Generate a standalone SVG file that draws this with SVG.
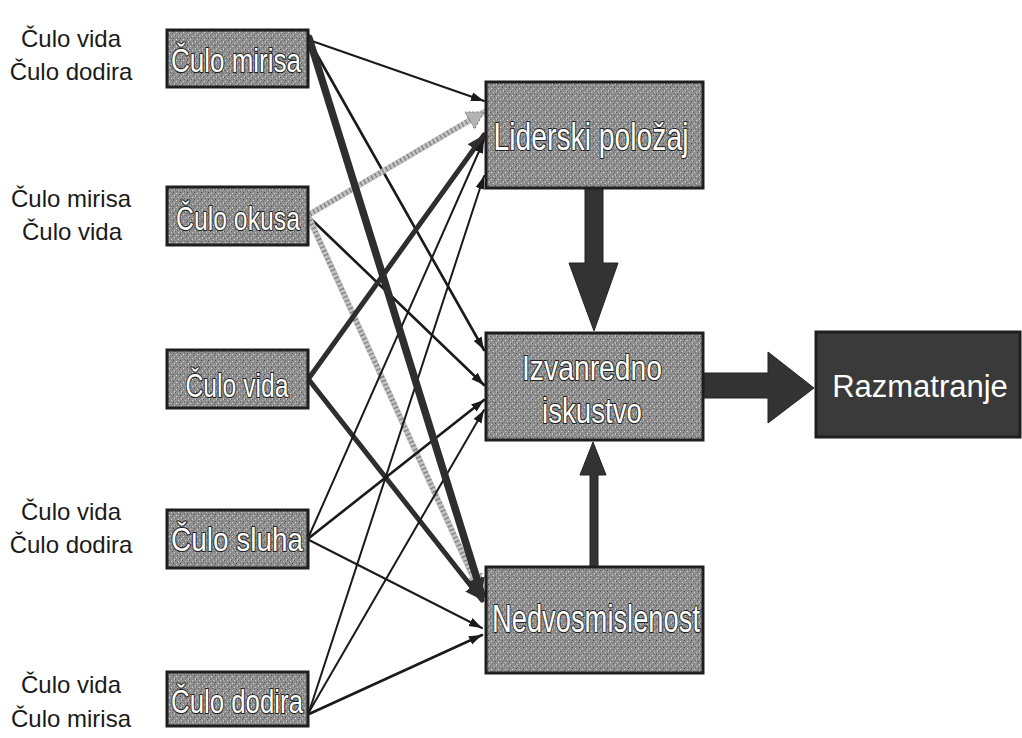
<svg xmlns="http://www.w3.org/2000/svg" width="1022" height="738" viewBox="0 0 1022 738">
<style>
.lbl{font-family:"Liberation Sans",Arial,sans-serif;font-size:24px;fill:#1a1a1a;text-anchor:middle}
.box{fill:url(#stip);stroke:#1e1e1e;stroke-width:3}
.dark{fill:#3a3a3a;stroke:#1e1e1e;stroke-width:3}
.bt{font-family:"Liberation Sans",Arial,sans-serif;fill:#fff;stroke:#222;stroke-width:2.2;paint-order:stroke;stroke-linejoin:round}
.rt{font-family:"Liberation Sans",Arial,sans-serif;font-size:31px;fill:#fff}
.c{fill:none;stroke:#1a1a1a;stroke-linecap:round}
.thin{stroke-width:2;marker-end:url(#ah)}
.med{stroke-width:2.6;marker-end:url(#ah)}
.thk{stroke:#2e2e2e;stroke-width:5;marker-end:url(#ahb)}
.vthk{stroke:#2e2e2e;stroke-width:7.5;marker-end:url(#ahb)}
.gray{stroke:#c2c2c2;stroke-width:6;marker-end:url(#ahg)}
.grayd{stroke:#7a7a7a;stroke-width:5;stroke-dasharray:1.2 3;stroke-linecap:butt}
.big{fill:#333;stroke:#222;stroke-width:1}
</style>
<defs>
<pattern id="stip" width="7" height="7" patternUnits="userSpaceOnUse">
<rect width="7" height="7" fill="#8f8f8f"/>
<rect x="0" y="0" width="1" height="1" fill="#555"/>
<rect x="3" y="1" width="1" height="1" fill="#cfcfcf"/>
<rect x="5" y="3" width="1" height="1" fill="#4d4d4d"/>
<rect x="1" y="4" width="1" height="1" fill="#d6d6d6"/>
<rect x="4" y="5" width="1" height="1" fill="#666"/>
<rect x="6" y="6" width="1" height="1" fill="#c4c4c4"/>
<rect x="2" y="2" width="1" height="1" fill="#6a6a6a"/>
<rect x="6" y="0" width="1" height="1" fill="#bdbdbd"/>
</pattern>
<marker id="ah" markerUnits="userSpaceOnUse" markerWidth="14" markerHeight="10" refX="13" refY="5" orient="auto">
<path d="M0,0.5 L13,5 L0,9.5 Z" fill="#1a1a1a"/>
</marker>
<marker id="ahb" markerUnits="userSpaceOnUse" markerWidth="18" markerHeight="16" refX="17" refY="8" orient="auto">
<path d="M0,0 L17,8 L0,16 Z" fill="#2e2e2e"/>
</marker>
<marker id="ahg" markerUnits="userSpaceOnUse" markerWidth="18" markerHeight="20" refX="17" refY="10" orient="auto">
<path d="M0,0 L17,10 L0,20 Z" fill="#b4b4b4" stroke="#777" stroke-width="1" stroke-dasharray="2 2"/>
</marker>
</defs>
<rect width="1022" height="738" fill="#fff"/>

<g id="labels">
<text class="lbl" x="71" y="47">Čulo vida</text>
<text class="lbl" x="71" y="80">Čulo dodira</text>
<text class="lbl" x="71" y="207">Čulo mirisa</text>
<text class="lbl" x="72" y="240">Čulo vida</text>
<text class="lbl" x="71" y="520">Čulo vida</text>
<text class="lbl" x="71" y="553">Čulo dodira</text>
<text class="lbl" x="71" y="693">Čulo vida</text>
<text class="lbl" x="71" y="727">Čulo mirisa</text>
</g>

<g id="connectors">
<line class="c thin" x1="309" y1="40" x2="484" y2="101"/>
<line class="c med" x1="311" y1="44" x2="484" y2="350"/>
<line class="c gray" x1="310" y1="214" x2="484" y2="112"/>
<line class="c grayd" x1="310" y1="214" x2="470" y2="120"/>
<line class="c med" x1="310" y1="218" x2="484" y2="385"/>
<line class="c gray" x1="310" y1="220" x2="480" y2="592"/>
<line class="c grayd" x1="310" y1="220" x2="472" y2="574"/>
<line class="c thk" x1="309" y1="378" x2="484" y2="135"/>
<line class="c thk" x1="309" y1="380" x2="482" y2="600"/>
<line class="c thin" x1="309" y1="536" x2="484" y2="140"/>
<line class="c med" x1="309" y1="538" x2="484" y2="400"/>
<line class="c thin" x1="309" y1="540" x2="482" y2="628"/>
<line class="c thin" x1="309" y1="712" x2="484" y2="176"/>
<line class="c thin" x1="309" y1="712" x2="484" y2="410"/>
<line class="c med" x1="309" y1="714" x2="482" y2="635"/>
<line class="c vthk" x1="309" y1="38" x2="482" y2="595"/>
<polygon class="big" points="585,188 603,188 603,263 618,263 594,331 569,263 585,263"/>
<polygon class="big" points="590,567 598,567 598,475 606,475 593,442 580,475 590,475"/>
<polygon class="big" points="703,373 768,373 768,352 814,388 768,423 768,398 703,398"/>
</g>

<g id="n-mirisa"><rect class="box" x="167" y="30" width="141" height="57"/><text class="bt" x="236" y="72" font-size="33" text-anchor="middle" textLength="130" lengthAdjust="spacingAndGlyphs">Čulo mirisa</text></g>
<g id="n-okusa"><rect class="box" x="167" y="187" width="141" height="58"/><text class="bt" x="238" y="230" font-size="33" text-anchor="middle" textLength="124" lengthAdjust="spacingAndGlyphs">Čulo okusa</text></g>
<g id="n-vida"><rect class="box" x="167" y="350" width="141" height="58"/><text class="bt" x="237" y="397" font-size="33" text-anchor="middle" textLength="103" lengthAdjust="spacingAndGlyphs">Čulo vida</text></g>
<g id="n-sluha"><rect class="box" x="167" y="510" width="141" height="58"/><text class="bt" x="237" y="551" font-size="33" text-anchor="middle" textLength="132" lengthAdjust="spacingAndGlyphs">Čulo sluha</text></g>
<g id="n-dodira"><rect class="box" x="167" y="672" width="141" height="54"/><text class="bt" x="237" y="713" font-size="33" text-anchor="middle" textLength="132" lengthAdjust="spacingAndGlyphs">Čulo dodira</text></g>

<g id="n-liderski"><rect class="box" x="486" y="82" width="217" height="106"/><text class="bt" x="591" y="150" font-size="38" text-anchor="middle" textLength="195" lengthAdjust="spacingAndGlyphs">Liderski položaj</text></g>
<g id="n-izvanredno"><rect class="box" x="486" y="333" width="217" height="107"/><text class="bt" x="592" y="380" font-size="35" text-anchor="middle" textLength="140" lengthAdjust="spacingAndGlyphs">Izvanredno</text><text class="bt" x="592" y="423" font-size="35" text-anchor="middle" textLength="100" lengthAdjust="spacingAndGlyphs">iskustvo</text></g>
<g id="n-nedvos"><rect class="box" x="486" y="567" width="217" height="106"/><text class="bt" x="596" y="632" font-size="38" text-anchor="middle" textLength="208" lengthAdjust="spacingAndGlyphs">Nedvosmislenost</text></g>
<g id="n-razmatranje"><rect class="dark" x="816" y="332" width="204" height="105"/><text class="rt" x="920" y="397" text-anchor="middle">Razmatranje</text></g>
</svg>
